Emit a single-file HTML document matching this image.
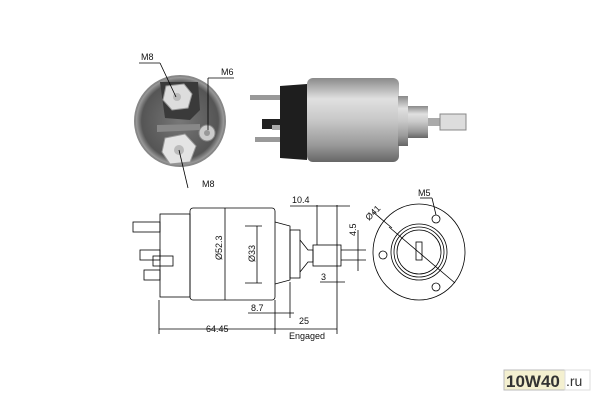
<!DOCTYPE html>
<html><head><style>
body{margin:0;background:#fff;width:600px;height:400px;overflow:hidden}
svg{display:block}
text{font-family:"Liberation Sans",sans-serif;font-size:9px;fill:#111}
</style></head><body>
<svg width="600" height="400" viewBox="0 0 600 400">
<defs>
<linearGradient id="cyl" x1="0" y1="0" x2="0" y2="1">
<stop offset="0" stop-color="#8a8a8a"/><stop offset="0.25" stop-color="#e0e0e0"/><stop offset="0.5" stop-color="#c8c8c8"/><stop offset="0.8" stop-color="#999"/><stop offset="1" stop-color="#666"/>
</linearGradient>
<radialGradient id="face" cx="0.5" cy="0.5" r="0.5">
<stop offset="0" stop-color="#777"/><stop offset="0.85" stop-color="#555"/><stop offset="1" stop-color="#aaa"/>
</radialGradient>
</defs>
<circle cx="180" cy="121" r="45" fill="url(#face)" stroke="#888" stroke-width="2"/>
<path d="M160 82 L198 82 L200 110 L190 120 L165 118 Z" fill="#3a3a3a"/>
<polygon points="166,86 184,84 192,94 188,108 172,110 163,100" fill="#ddd" stroke="#999"/>
<circle cx="177" cy="97" r="4" fill="#bbb"/>
<circle cx="207" cy="133" r="8" fill="#ccc" stroke="#888"/>
<circle cx="207" cy="133" r="3" fill="#999"/>
<polygon points="165,138 185,134 196,146 190,162 170,164 162,152" fill="#e4e4e4" stroke="#999"/>
<circle cx="179" cy="150" r="5" fill="#bbb"/>
<path d="M157 125 L200 124 L200 130 L157 132Z" fill="#888"/>
<line x1="139" y1="63" x2="160" y2="63" stroke="#000" stroke-width="0.8"/>
<line x1="160" y1="63" x2="176" y2="97" stroke="#000" stroke-width="0.8"/>
<line x1="208" y1="78" x2="234" y2="78" stroke="#000" stroke-width="0.8"/>
<line x1="208" y1="78" x2="208" y2="130" stroke="#000" stroke-width="0.8"/>
<line x1="179" y1="150" x2="188" y2="188" stroke="#000" stroke-width="0.8"/>
<text x="141" y="60">M8</text>
<text x="221" y="75">M6</text>
<text x="202" y="187">M8</text>
<rect x="250" y="95" width="30" height="5" fill="#999"/>
<rect x="255" y="137" width="25" height="5" fill="#999"/>
<rect x="262" y="119" width="22" height="10" fill="#222"/>
<rect x="272" y="125" width="20" height="5" fill="#aaa"/>
<path d="M280 86 L307 84 L307 160 L280 158 Z" fill="#1e1e1e"/>
<rect x="307" y="78" width="92" height="84" rx="6" fill="url(#cyl)"/>
<rect x="398" y="96" width="10" height="50" fill="url(#cyl)"/>
<rect x="408" y="106" width="20" height="32" fill="url(#cyl)"/>
<rect x="428" y="118" width="12" height="8" fill="#aaa"/>
<rect x="440" y="114" width="26" height="16" fill="#ddd" stroke="#888"/>
<g fill="none" stroke="#000" stroke-width="0.8">
<rect x="133" y="222" width="27" height="10"/>
<rect x="140" y="250" width="20" height="10"/>
<rect x="153" y="256" width="20" height="10"/>
<rect x="144" y="270" width="16" height="10"/>
<rect x="160" y="214" width="30" height="83"/>
<rect x="190" y="208" width="85" height="92" rx="3"/>
<path d="M275 222 L290 226 L290 280 L275 284"/>
<rect x="290" y="230" width="10" height="48"/>
<path d="M300 240 L308 250 L313 250 L313 262 L308 262 L300 272"/>
<rect x="313" y="245" width="28" height="21"/>
<line x1="341" y1="250" x2="366" y2="250"/><line x1="341" y1="260" x2="366" y2="260"/>
<line x1="159" y1="300" x2="159" y2="334"/>
<line x1="275" y1="300" x2="275" y2="334"/>
<line x1="290" y1="282" x2="290" y2="318"/>
<line x1="337" y1="205" x2="337" y2="334"/>
<line x1="317" y1="205" x2="317" y2="245"/>
<line x1="159" y1="329" x2="337" y2="329"/>
<line x1="248" y1="313" x2="294" y2="313"/>
<line x1="290" y1="206" x2="350" y2="206"/>
<line x1="320" y1="282" x2="345" y2="282"/>
<line x1="358" y1="230" x2="358" y2="271"/>
<line x1="225" y1="208" x2="225" y2="300"/>
<line x1="245" y1="226" x2="262" y2="226"/><line x1="245" y1="283" x2="262" y2="283"/>
<line x1="257" y1="226" x2="257" y2="283"/>
<ellipse cx="419" cy="252" rx="46" ry="48"/>
<circle cx="419" cy="252" r="28"/>
<circle cx="419" cy="252" r="25"/>
<circle cx="419" cy="252" r="22"/>
<rect x="416" y="242" width="6" height="18"/>
<circle cx="383" cy="255" r="4"/>
<circle cx="436" cy="219" r="4"/>
<circle cx="436" cy="287" r="4"/>
<line x1="389" y1="227" x2="455" y2="283"/>
<line x1="373" y1="212" x2="392" y2="228"/>
<line x1="420" y1="198" x2="432" y2="198"/><line x1="432" y1="198" x2="436" y2="215"/>
</g>
<text x="206" y="332" font-size="10">64.45</text>
<text x="299" y="324" font-size="10">25</text>
<text x="289" y="339" font-size="9">Engaged</text>
<text x="251" y="311" font-size="9">8.7</text>
<text x="292" y="203" font-size="9">10.4</text>
<text x="321" y="280" font-size="9">3</text>
<text transform="translate(222 260) rotate(-90)" font-size="9">Ø52.3</text>
<text transform="translate(255 262) rotate(-90)" font-size="9">Ø33</text>
<text transform="translate(356 236) rotate(-90)" font-size="9">4.5</text>
<text transform="translate(369 221) rotate(-45)" font-size="9">Ø41</text>
<text x="418" y="196" font-size="9">M5</text>
<rect x="504" y="370" width="61" height="20" fill="#f4f0d0" stroke="#bbb"/>
<rect x="565" y="370" width="25" height="20" fill="#fff" stroke="#ddd"/>
<text x="506" y="387" style="font-size:17px;fill:#333;font-weight:bold">10W40</text>
<text x="566" y="386" style="font-size:14px;fill:#333">.ru</text>
</svg>
</body></html>
